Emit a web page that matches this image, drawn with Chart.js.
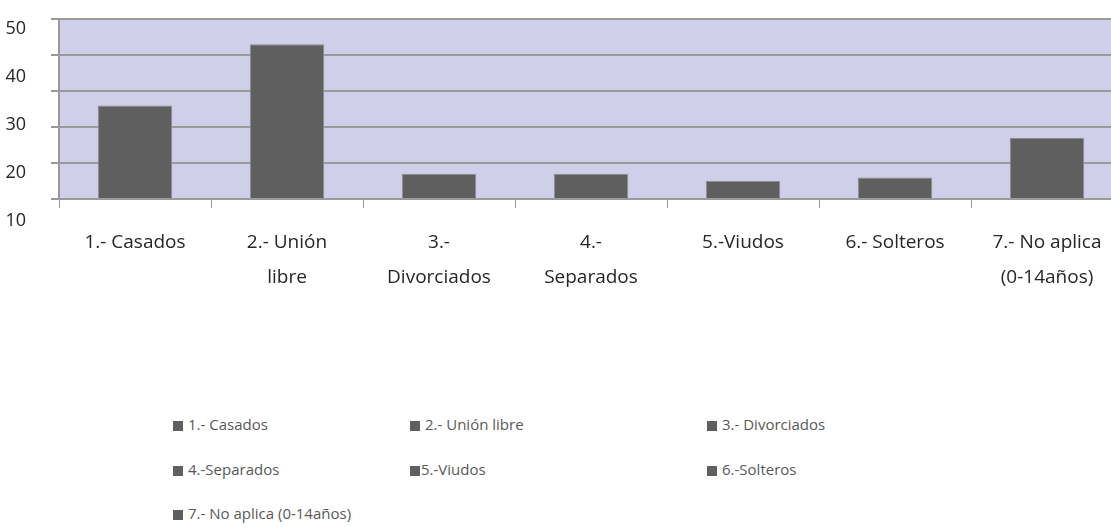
<!DOCTYPE html>
<html>
<head>
<meta charset="utf-8">
<script src="https://cdn.jsdelivr.net/npm/chart.js@4.4.1/dist/chart.umd.min.js"></script>
<style>
  body { margin: 0; background: #fff; overflow: hidden; width: 1111px; height: 527px; position: relative; }
  #chartBox { position: absolute; left: 0; top: 0; width: 1125px; height: 290px; overflow: hidden; }
  #chartBox canvas { display: block; }
  #legend { position: absolute; left: 0; top: 0; font-family: "Open Sans", sans-serif; font-size: 15px; color: #595959; }
  .item { position: absolute; white-space: nowrap; line-height: 20px; }
  .box { display: inline-block; width: 10px; height: 10px; vertical-align: -1px; }
</style>
</head>
<body>
<div id="chartBox"><canvas id="estadoChart" width="1125" height="310"></canvas></div>
<div id="legend"></div>
<script>
const categories = [
    ["1.- Casados"],
    ["2.- Unión", "libre"],
    ["3.-", "Divorciados"],
    ["4.-", "Separados"],
    ["5.-Viudos"],
    ["6.- Solteros"],
    ["7.- No aplica", "(0-14años)"]
];
const legendLabels = ["1.- Casados", "2.- Unión libre", "3.- Divorciados", "4.-Separados", "5.-Viudos", "6.-Solteros", "7.- No aplica (0-14años)"];
const values = [26, 43, 7, 7, 5, 6, 17];
const yTickLabels = [50, 40, 30, 20, 10];

const barColor = "#5f5f5f";
const gridColor = "#9a9a9a";

// fills the plot area with the lilac background
const plotBg = {
    id: "plotBg",
    beforeDraw(chart) {
        const a = chart.chartArea;
        const ctx = chart.ctx;
        ctx.save();
        ctx.fillStyle = "#cfcfe9";
        ctx.fillRect(a.left, a.top, a.right - a.left, a.bottom - a.top);
        ctx.restore();
    }
};

const chart = new Chart("estadoChart", {
    type: "bar",
    data: {
        labels: categories,
        datasets: [{
            data: values,
            backgroundColor: barColor,
            borderColor: "#8c8c8c",
            borderWidth: 1,
            barPercentage: 0.49,
            categoryPercentage: 1
        }]
    },
    options: {
        responsive: false,
        animation: false,
        layout: { padding: { top: 19, right: 2, left: 0, bottom: 0 } },
        plugins: { legend: { display: false }, tooltip: { enabled: false } },
        scales: {
            x: {
                grid: { offset: true, drawOnChartArea: false, color: gridColor, tickLength: 9 },
                border: { color: gridColor, width: 2 },
                ticks: {
                    maxRotation: 0, autoSkip: false, padding: 17,
                    color: "#262626",
                    font: { family: "Open Sans", size: 19, lineHeight: 35 / 19 }
                },
                afterFit(scale) { scale.height = 111; }
            },
            y: {
                min: 0, max: 50,
                ticks: { stepSize: 10, display: false },
                grid: { color: gridColor, lineWidth: 2, tickLength: 8 },
                border: { color: gridColor, width: 2 },
                afterFit(scale) { scale.width = 8; scale.paddingTop = 0; scale.paddingBottom = 0; }
            },
            y2: {
                position: "left",
                min: 14, max: 51.4,
                grid: { display: false },
                border: { display: false },
                ticks: {
                    autoSkip: false, padding: 17, labelOffset: 3,
                    color: "#262626",
                    font: { family: "Open Sans", size: 18 }
                },
                afterBuildTicks(scale) { scale.ticks = yTickLabels.map(v => ({ value: v })); },
                afterFit(scale) { scale.width = 51; scale.paddingTop = 0; scale.paddingBottom = 0; }
            }
        }
    },
    plugins: [plotBg]
});

// html legend, three columns like the original
const legendBox = document.getElementById("legend");
const colX = [173, 410, 707];
const rowY = [414, 459, 503];
legendLabels.forEach(function (txt, i) {
    const el = document.createElement("div");
    el.className = "item";
    el.style.left = colX[i % 3] + "px";
    el.style.top = rowY[Math.floor(i / 3)] + "px";
    const gap = (i === 4) ? "1px" : "5px";
    el.innerHTML = '<span class="box" style="background:' + barColor + ';margin-right:' + gap + '"></span>' + txt;
    legendBox.appendChild(el);
});
</script>
</body>
</html>
